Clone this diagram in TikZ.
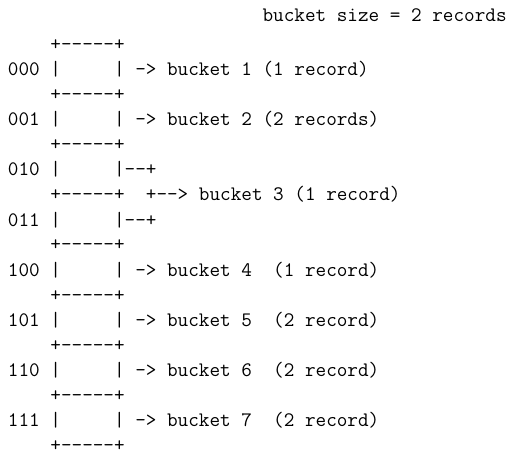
\documentclass[tikz,border=0pt]{standalone}
\begin{document}
\begin{tikzpicture}[x=1pt,y=1pt,
  ascii/.style={anchor=base west,inner sep=0pt,outer sep=0pt,
    font=\fontsize{20.6}{24}\selectfont\ttfamily}]
\useasboundingbox[fill=white] (0,0) rectangle (508,-470);
% one text line of the table per node; ~ keeps each blank a fixed column
\def\lx{8}
\node[ascii] (title) at (\lx,-22)  {~~~~~~~~~~~~~~~~~~~~~~~~bucket~size~=~2~records};
\node[ascii] (r1)  at (\lx,-51)  {~~~~+-{}-{}-{}-{}-+};
\node[ascii] (r2)  at (\lx,-76)  {000~|~~~~~|~-{}>~bucket~1~(1~record)};
\node[ascii] (r3)  at (\lx,-101) {~~~~+-{}-{}-{}-{}-+};
\node[ascii] (r4)  at (\lx,-126) {001~|~~~~~|~-{}>~bucket~2~(2~records)};
\node[ascii] (r5)  at (\lx,-151) {~~~~+-{}-{}-{}-{}-+};
\node[ascii] (r6)  at (\lx,-176) {010~|~~~~~|-{}-{}+};
\node[ascii] (r7)  at (\lx,-201) {~~~~+-{}-{}-{}-{}-+~~+-{}-{}>~bucket~3~(1~record)};
\node[ascii] (r8)  at (\lx,-226) {011~|~~~~~|-{}-{}+};
\node[ascii] (r9)  at (\lx,-251) {~~~~+-{}-{}-{}-{}-+};
\node[ascii] (r10) at (\lx,-276) {100~|~~~~~|~-{}>~bucket~4~~(1~record)};
\node[ascii] (r11) at (\lx,-301) {~~~~+-{}-{}-{}-{}-+};
\node[ascii] (r12) at (\lx,-326) {101~|~~~~~|~-{}>~bucket~5~~(2~record)};
\node[ascii] (r13) at (\lx,-351) {~~~~+-{}-{}-{}-{}-+};
\node[ascii] (r14) at (\lx,-376) {110~|~~~~~|~-{}>~bucket~6~~(2~record)};
\node[ascii] (r15) at (\lx,-401) {~~~~+-{}-{}-{}-{}-+};
\node[ascii] (r16) at (\lx,-426) {111~|~~~~~|~-{}>~bucket~7~~(2~record)};
\node[ascii] (r17) at (\lx,-451) {~~~~+-{}-{}-{}-{}-+};
\end{tikzpicture}
\end{document}
